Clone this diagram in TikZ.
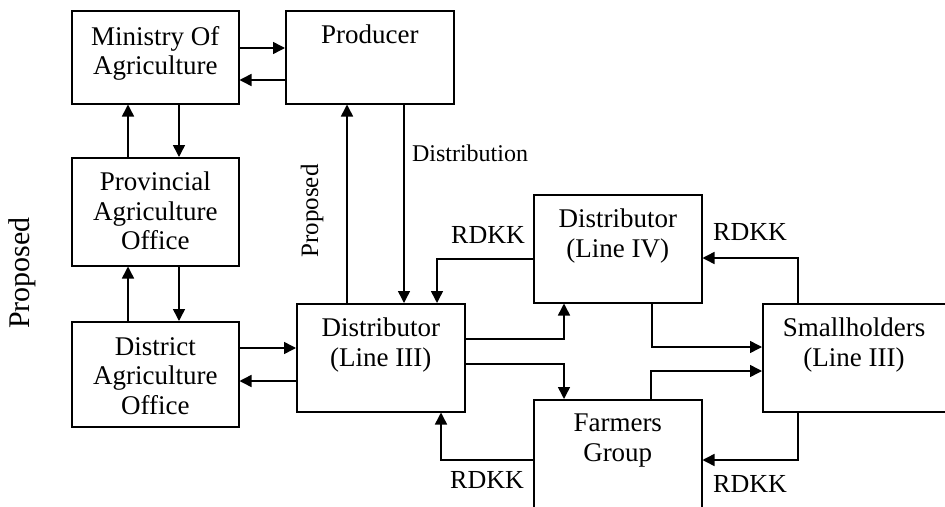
\documentclass[tikz,border=0pt]{standalone}
\usepackage{fontspec}
\setmainfont{Liberation Serif}
\usetikzlibrary{arrows.meta}
\begin{document}
\begin{tikzpicture}[x=1pt,y=-1pt,
  box/.style={draw, line width=1.5pt, inner sep=0pt, anchor=north west},
  boxtext/.style={anchor=north, inner sep=0pt, align=center, font=\fontsize{27}{29.5}\selectfont},
  lbl/.style={inner sep=0pt, font=\fontsize{26}{30}\selectfont},
  conn/.style={line width=1.5pt, -{Triangle[length=12pt,width=12pt]}},
  line/.style={line width=1.5pt}]
\useasboundingbox (0,0) rectangle (945,506);
% boxes
\node[box, minimum width=167pt, minimum height=93pt] (min) at (71,10) {};
\node[box, minimum width=168pt, minimum height=93pt] (prod) at (285,10) {};
\node[box, minimum width=167pt, minimum height=108pt] (prov) at (71,157) {};
\node[box, minimum width=167pt, minimum height=105pt] (dao) at (71,321) {};
\node[box, minimum width=168pt, minimum height=108pt] (d3) at (296,303) {};
\node[box, minimum width=168pt, minimum height=108pt] (d4) at (533,194) {};
\node[box, minimum width=168pt, minimum height=115pt] (fg) at (533,399) {};
\node[box, minimum width=190pt, minimum height=108pt] (sh) at (762,303) {};
% box texts
\node[boxtext] (tmin) at ([yshift=-16pt]min.north) {Ministry Of\\Agriculture};
\node[boxtext] (tprod) at ([yshift=-15pt]prod.north) {Producer};
\node[boxtext] (tprov) at ([yshift=-15pt]prov.north) {Provincial\\Agriculture\\Office};
\node[boxtext] (tdao) at ([yshift=-16pt]dao.north) {District\\Agriculture\\Office};
\node[boxtext] (td3) at ([yshift=-15pt]d3.north) {Distributor\\(Line III)};
\node[boxtext] (td4) at ([yshift=-15pt]d4.north) {Distributor\\(Line IV)};
\node[boxtext] (tfg) at ([yshift=-15pt]fg.north) {Farmers\\Group};
\node[boxtext] (tsh) at ([yshift=-15pt]sh.north -| 854,0) {Smallholders\\(Line III)};
% labels
\node[lbl, rotate=90, font=\fontsize{30}{34}\selectfont] (bigprop) at (22,273) {Proposed};
\node[lbl, rotate=90, font=\fontsize{25}{28}\selectfont] (prop) at (312,211) {Proposed};
\node[lbl, font=\fontsize{24}{28}\selectfont] (distr) at (470,153) {Distribution};
\node[lbl] (r1) at (488,235) {RDKK};
\node[lbl] (r2) at (487,480) {RDKK};
\node[lbl] (r3) at (750,232) {RDKK};
\node[lbl] (r4) at (750,484) {RDKK};
% connectors
\draw[conn] (min.east |- 0,48) -- (prod.west |- 0,48);
\draw[conn] (prod.west |- 0,80) -- (min.east |- 0,80);
\draw[conn] (prov.north -| 128,0) -- (min.south -| 128,0);
\draw[conn] (min.south -| 179,0) -- (prov.north -| 179,0);
\draw[conn] (dao.north -| 128,0) -- (prov.south -| 128,0);
\draw[conn] (prov.south -| 179,0) -- (dao.north -| 179,0);
\draw[conn] (dao.east |- 0,348) -- (d3.west |- 0,348);
\draw[conn] (d3.west |- 0,381) -- (dao.east |- 0,381);
\draw[conn] (d3.north -| 347,0) -- (prod.south -| 347,0);
\draw[conn] (prod.south -| 404,0) -- (d3.north -| 404,0);
\draw[conn] (d4.west |- 0,259) -| (d3.north -| 437,0);
\draw[conn] (d3.east |- 0,339) -| (d4.south -| 564,0);
\draw[conn] (d3.east |- 0,364) -| (fg.north -| 564,0);
\draw[conn] (fg.west |- 0,460) -| (d3.south -| 441,0);
\draw[conn] (d4.south -| 652,0) |- (sh.west |- 0,347);
\draw[conn] (fg.north -| 651,0) |- (sh.west |- 0,371);
\draw[conn] (sh.north -| 798,0) |- (d4.east |- 0,258);
\draw[conn] (sh.south -| 798,0) |- (fg.east |- 0,460);
\end{tikzpicture}
\end{document}
